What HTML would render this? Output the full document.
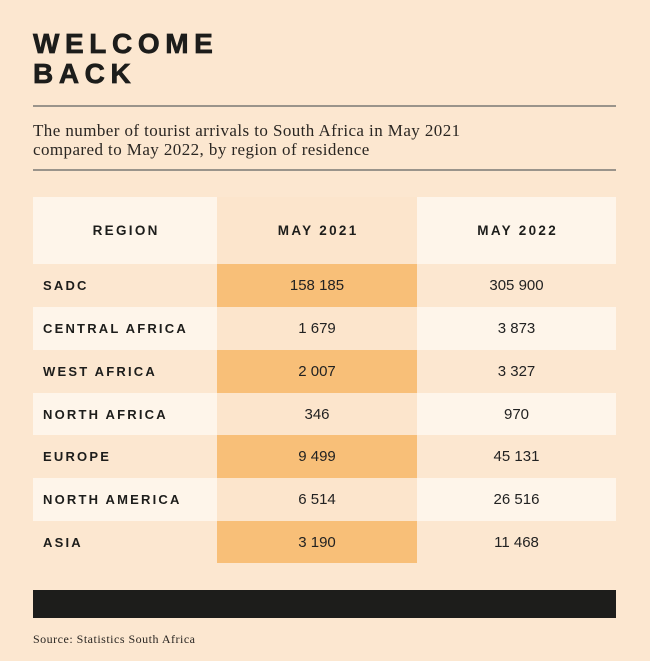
<!DOCTYPE html>
<html>
<head>
<meta charset="utf-8">
<style>
  html, body { margin:0; padding:0; }
  body { width:650px; height:661px; background:#FCE7D0; position:relative; overflow:hidden; font-family:"Liberation Sans", sans-serif; color:#1d1d1b; }
  .title { position:absolute; left:33px; top:29px; font-weight:bold; font-size:28px; line-height:30px; letter-spacing:5.6px; color:#1d1d1b; -webkit-text-stroke:0.7px #1d1d1b; }
  .rule { position:absolute; left:33px; width:583px; height:2px; background:#9a948b; }
  .sub { position:absolute; left:33px; top:121px; font-family:"Liberation Serif", serif; font-size:17px; letter-spacing:0.42px; line-height:19px; color:#2a2622; }
  .cell { position:absolute; display:flex; align-items:center; box-sizing:border-box; }
  .hdr { justify-content:center; font-weight:bold; font-size:13.5px; letter-spacing:2.3px; padding-left:2.3px; }
  .reg { padding-left:10px; font-weight:bold; font-size:13px; letter-spacing:2.2px; }
  .num { justify-content:center; font-size:15px; color:#222; }
  .bg { background:#FCE7D0; }
  .lt { background:#FEF5EA; }
  .pe { background:#FCE5CC; }
  .or { background:#F8BF78; }
  .bar { position:absolute; left:33px; top:590px; width:583px; height:28px; background:#1d1d1b; }
  .src { position:absolute; left:33px; top:633px; font-family:"Liberation Serif", serif; font-size:12px; letter-spacing:0.5px; line-height:12px; color:#2a2622; }
</style>
</head>
<body>
<div class="title">WELCOME<br>BACK</div>
<div class="rule" style="top:105px;"></div>
<div class="sub">The number of tourist arrivals to South Africa in May 2021<br>compared to May 2022, by region of residence</div>
<div class="rule" style="top:169px;"></div>

<div class="cell hdr lt" style="left:33px;top:197px;width:184px;height:67px;">REGION</div>
<div class="cell hdr pe" style="left:217px;top:197px;width:200px;height:67px;">MAY 2021</div>
<div class="cell hdr lt" style="left:417px;top:197px;width:199px;height:67px;">MAY 2022</div>

<div class="cell reg bg" style="left:33px;top:264px;width:184px;height:43px;">SADC</div>
<div class="cell num or" style="left:217px;top:264px;width:200px;height:43px;">158 185</div>
<div class="cell num bg" style="left:417px;top:264px;width:199px;height:43px;">305 900</div>

<div class="cell reg lt" style="left:33px;top:307px;width:184px;height:43px;">CENTRAL AFRICA</div>
<div class="cell num pe" style="left:217px;top:307px;width:200px;height:43px;">1 679</div>
<div class="cell num lt" style="left:417px;top:307px;width:199px;height:43px;">3 873</div>

<div class="cell reg bg" style="left:33px;top:350px;width:184px;height:43px;">WEST AFRICA</div>
<div class="cell num or" style="left:217px;top:350px;width:200px;height:43px;">2 007</div>
<div class="cell num bg" style="left:417px;top:350px;width:199px;height:43px;">3 327</div>

<div class="cell reg lt" style="left:33px;top:393px;width:184px;height:42px;">NORTH AFRICA</div>
<div class="cell num pe" style="left:217px;top:393px;width:200px;height:42px;">346</div>
<div class="cell num lt" style="left:417px;top:393px;width:199px;height:42px;">970</div>

<div class="cell reg bg" style="left:33px;top:435px;width:184px;height:43px;">EUROPE</div>
<div class="cell num or" style="left:217px;top:435px;width:200px;height:43px;">9 499</div>
<div class="cell num bg" style="left:417px;top:435px;width:199px;height:43px;">45 131</div>

<div class="cell reg lt" style="left:33px;top:478px;width:184px;height:43px;">NORTH AMERICA</div>
<div class="cell num pe" style="left:217px;top:478px;width:200px;height:43px;">6 514</div>
<div class="cell num lt" style="left:417px;top:478px;width:199px;height:43px;">26 516</div>

<div class="cell reg bg" style="left:33px;top:521px;width:184px;height:42px;">ASIA</div>
<div class="cell num or" style="left:217px;top:521px;width:200px;height:42px;">3 190</div>
<div class="cell num bg" style="left:417px;top:521px;width:199px;height:42px;">11 468</div>

<div class="bar"></div>
<div class="src">Source: Statistics South Africa</div>
</body>
</html>
